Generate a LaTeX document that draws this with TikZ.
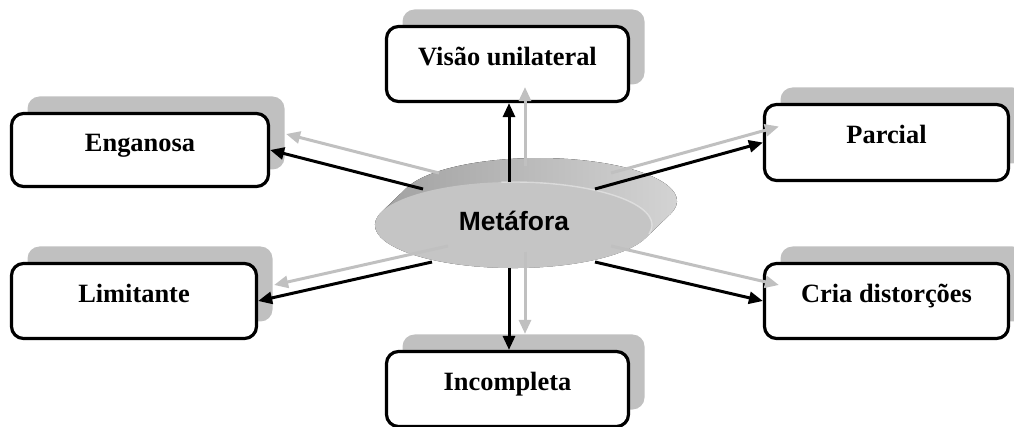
\documentclass[tikz,border=0pt]{standalone}
\usepackage{fontspec}
\setmainfont{Liberation Serif}
\newfontfamily\labelsans{Liberation Sans}
\usetikzlibrary{arrows.meta,calc,shadows}

\definecolor{shadowgray}{RGB}{192,192,192}
\definecolor{diskface}{RGB}{197,197,197}
\definecolor{sidedark}{RGB}{158,158,158}
\definecolor{sidemid}{RGB}{166,166,166}
\definecolor{sidelight}{RGB}{214,214,214}

\tikzset{
  conceptbox/.style={draw=black, line width=3.2pt, rounded corners=12pt, fill=white,
    font=\fontsize{26.4}{30}\selectfont\bfseries, text height=17.5pt, text depth=15pt,
    general shadow={fill=shadowgray, shadow xshift=16pt, shadow yshift=17pt}},
  mainlink/.style={draw=black, line width=3pt, -{Triangle[length=14pt,width=12pt]}},
  ghostlink/.style={draw=shadowgray, line width=3pt, -{Triangle[length=14pt,width=12pt]}},
}

\begin{document}
\begin{tikzpicture}[x=1pt,y=-1pt]
\useasboundingbox (0,0) rectangle (1014,427);

% outer concepts
\node[conceptbox, minimum width=242pt, minimum height=75pt] (vis) at (507.5,64)  {Visão unilateral};
\node[conceptbox, minimum width=257pt, minimum height=73pt] (eng) at (140,150)   {Enganosa};
\node[conceptbox, minimum width=244pt, minimum height=76pt] (par) at (886.5,142.5) {Parcial};
\node[conceptbox, minimum width=244pt, minimum height=75pt] (cri) at (886.5,301) {Cria distorções};
\node[conceptbox, minimum width=245pt, minimum height=75pt] (lim) at (134,301)   {Limitante};
\node[conceptbox, minimum width=242pt, minimum height=75pt] (inc) at (507.5,389) {Incompleta};

% extruded disk: side face, then front face
\coordinate (fc) at (513.5,225);
\fill[left color=sidedark, middle color=sidemid, right color=sidelight]
  (381.7,211.8) -- ++(25,-24)
  arc[start angle=162.1, end angle=-17.9, x radius=138.5pt, y radius=43pt]
  -- ++(-25,24)
  arc[start angle=-17.9, end angle=-197.9, x radius=138.5pt, y radius=43pt]
  -- cycle;
\fill[diskface] (fc) ellipse [x radius=138.5pt, y radius=43pt];
\draw[white, opacity=0.4, line width=1.4pt]
  ($(fc)+(95:138.5pt and 43pt)$)
  arc[start angle=95, end angle=-12, x radius=138.5pt, y radius=43pt];
\node[font=\labelsans\bfseries\fontsize{26.4}{30}\selectfont, text height=19pt,
  text depth=0pt, inner sep=0pt] (meta) at (514,221) {Metáfora};

% connector ends on the disk rim
\coordinate (sUp)   at (509,182);
\coordinate (sDown) at (509,268);
\coordinate (sEng)  at (423,189);
\coordinate (sLim)  at (432,262);
\coordinate (sPar)  at (595,189);
\coordinate (sCri)  at (595,262);
\coordinate (eUp)   at (sUp |- vis.south);
\coordinate (eDown) at (sDown |- inc.north);

% shadow connectors
\foreach \a/\b in {sUp/eUp, sDown/eDown, sEng/eng.east, sLim/lim.east, sPar/par.west, sCri/cri.west}
  \draw[ghostlink] ($(\a)+(16,-16)$) -- ($(\b)+(16,-16)$);

% main connectors
\foreach \a/\b in {sUp/eUp, sDown/eDown, sEng/eng.east, sLim/lim.east, sPar/par.west, sCri/cri.west}
  \draw[mainlink] (\a) -- (\b);
\end{tikzpicture}
\end{document}
